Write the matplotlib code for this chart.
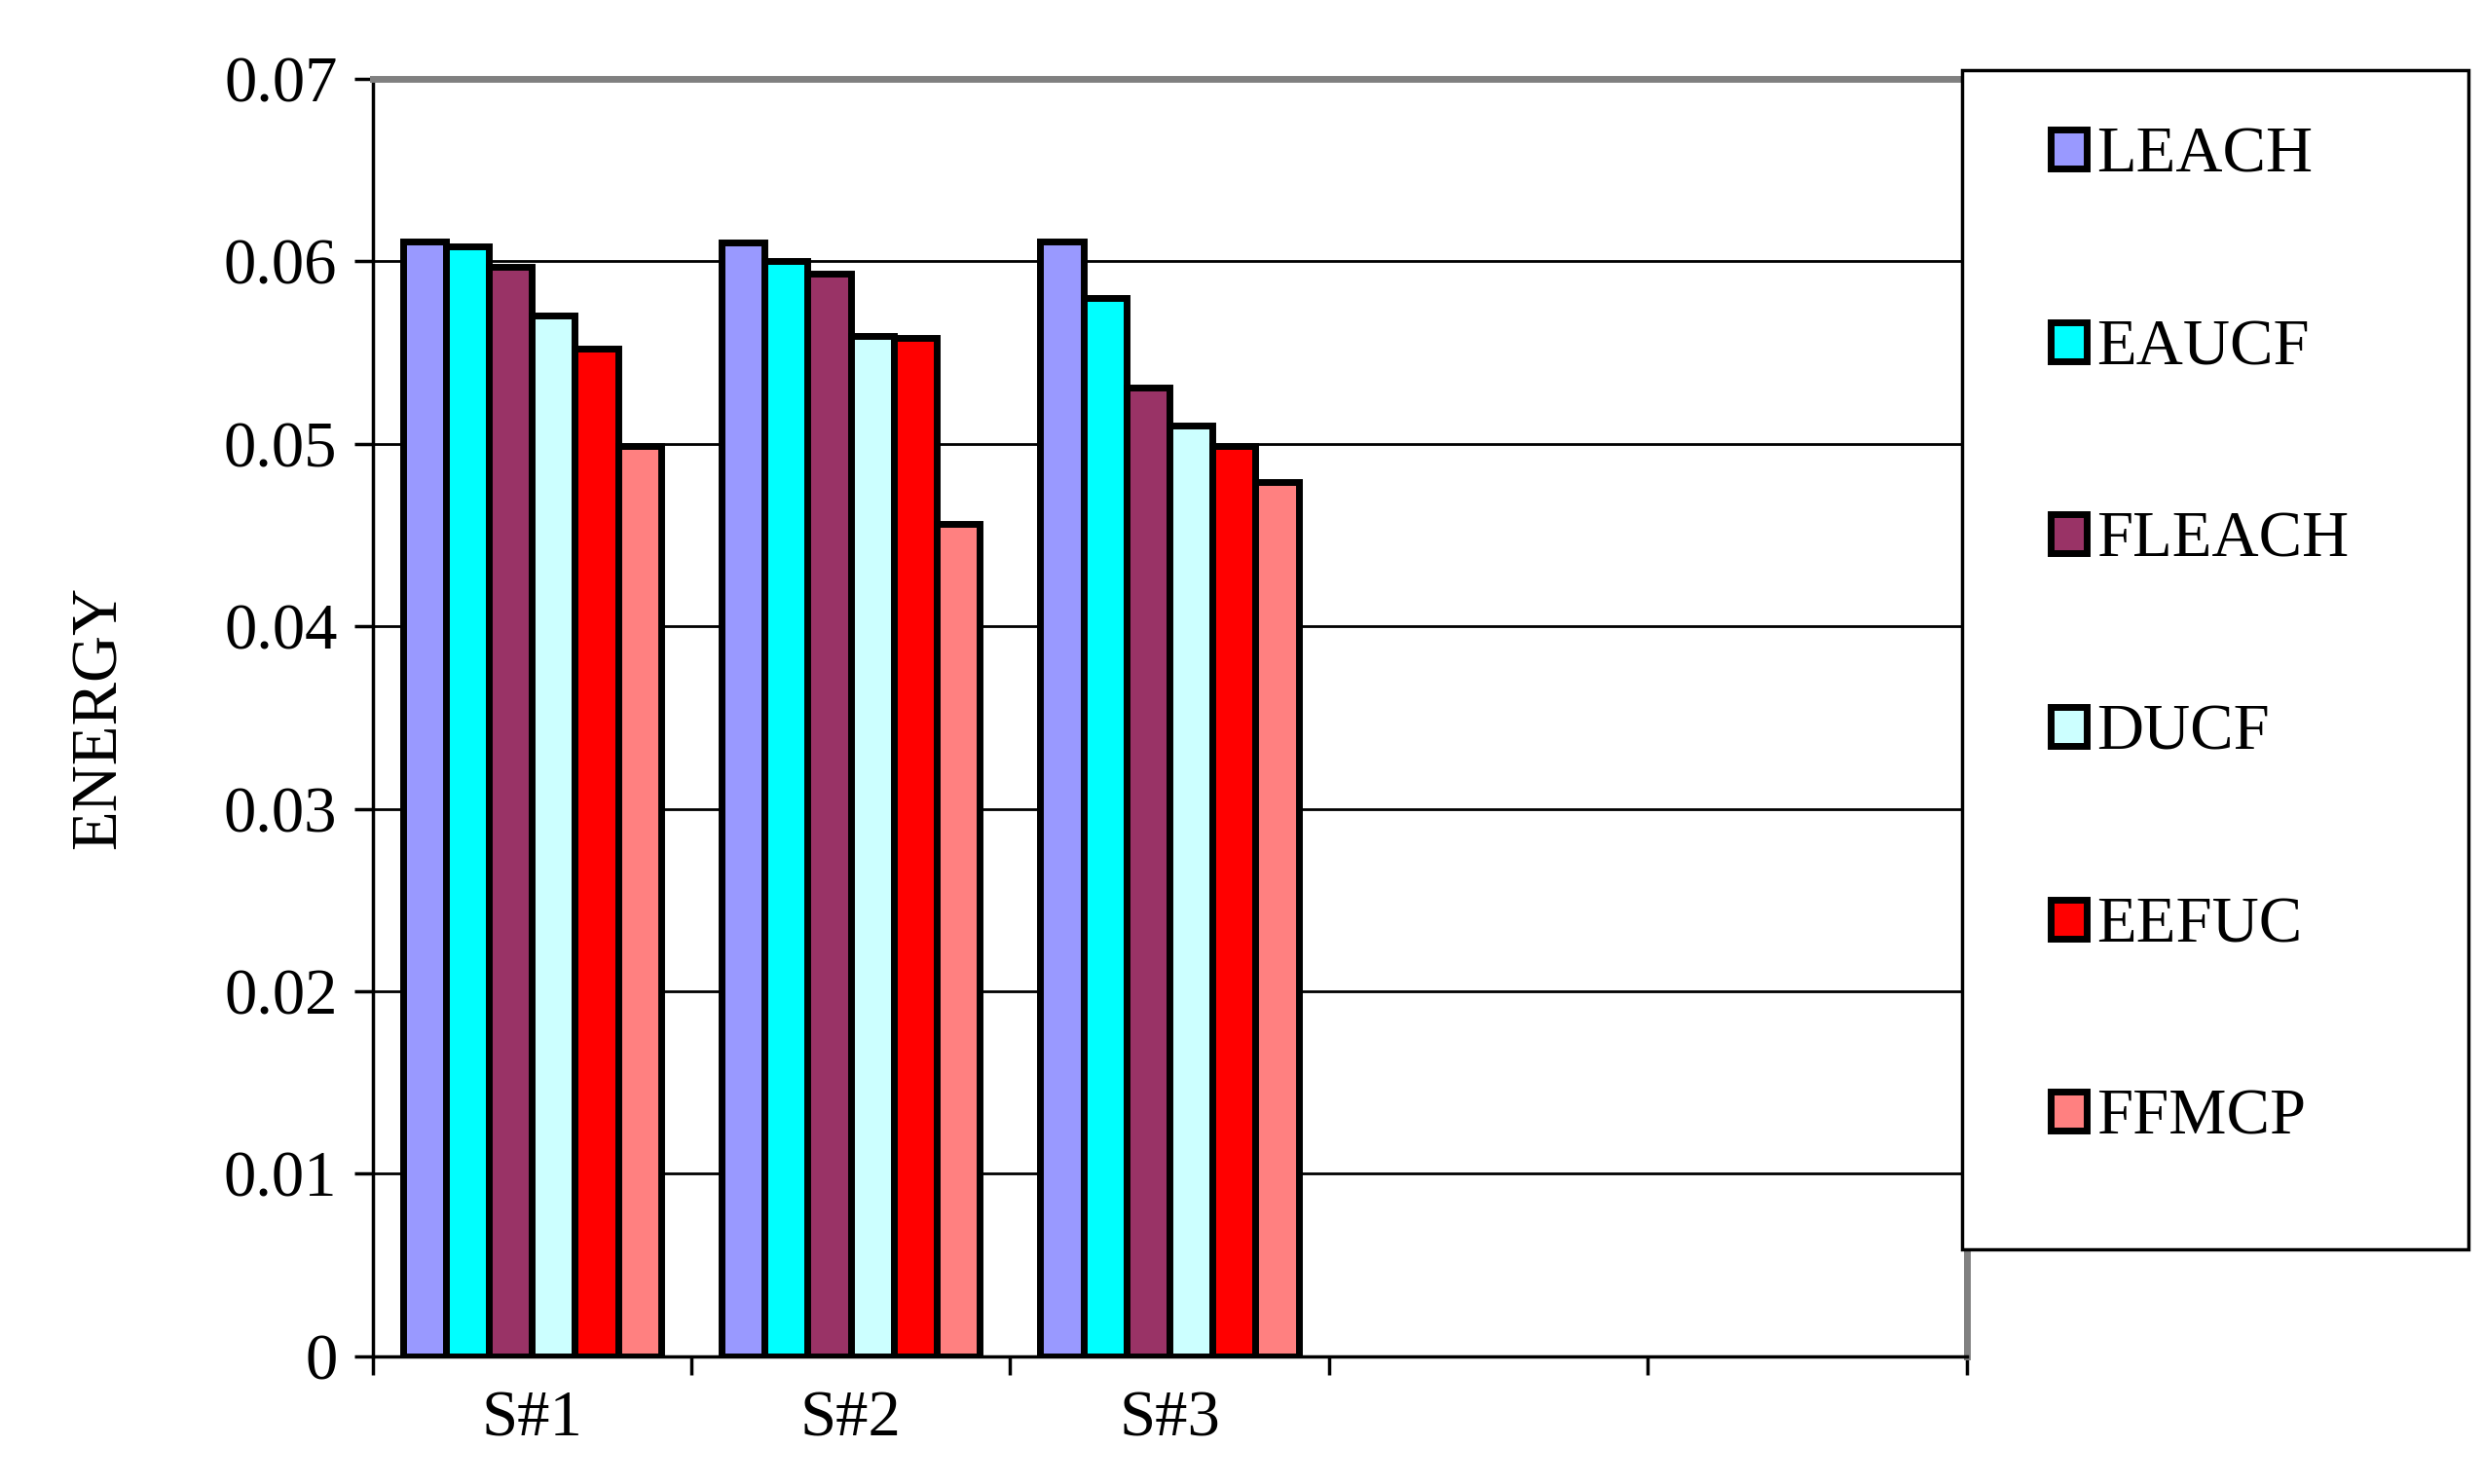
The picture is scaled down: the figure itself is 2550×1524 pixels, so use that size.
import matplotlib
matplotlib.use("Agg")
import matplotlib.pyplot as plt
import numpy as np
from matplotlib.patches import Rectangle

categories = ["S#1", "S#2", "S#3", "", ""]
series = ["LEACH", "EAUCF", "FLEACH", "DUCF", "EEFUC", "FFMCP"]
values = {
    "LEACH":  [0.0611, 0.0610, 0.0611],
    "EAUCF":  [0.0608, 0.0600, 0.0580],
    "FLEACH": [0.0597, 0.0593, 0.0531],
    "DUCF":   [0.0570, 0.0559, 0.0510],
    "EEFUC":  [0.0552, 0.0558, 0.0499],
    "FFMCP":  [0.0499, 0.0456, 0.0479],
}
colors = ["#9999FF", "#00FFFF", "#993366", "#CCFFFF", "#FF0000", "#FF8080"]

plt.rcParams['font.family'] = ['Liberation Serif', 'DejaVu Serif']
fig = plt.figure(figsize=(25.5, 15.24), dpi=100)
ax = fig.add_axes([0.150, 0.086, 0.642, 0.861])

bw = 0.135
n = len(series)
for i, (s, c) in enumerate(zip(series, colors)):
    x = np.arange(len(values[s])) + (i - (n - 1) / 2) * bw
    ax.bar(x, values[s], width=bw, color=c, edgecolor="black", linewidth=5, zorder=3,
           label=s)

ax.set_xlim(-0.5, len(categories) - 0.5)
ax.set_ylim(0, 0.07)
ax.set_yticks(np.arange(0, 0.071, 0.01))
ax.set_yticklabels(["0"] + [f"{v:.2f}" for v in np.arange(0.01, 0.071, 0.01)], fontsize=48)
ax.yaxis.grid(True, color="black", linewidth=2, zorder=0)
ax.set_xticks(np.arange(-0.5, len(categories)), minor=False)
ax.set_xticklabels([])
ax.set_xticks(np.arange(len(categories)), minor=True)
ax.set_xticklabels(categories, minor=True, fontsize=48)
ax.tick_params(axis="x", which="major", length=14, width=2.5, direction="out")
ax.tick_params(axis="x", which="minor", length=0, pad=25)
ax.tick_params(axis="y", length=14, width=2.5, direction="out", pad=12)
ax.set_ylabel("ENERGY", fontsize=48, labelpad=70)
for side in ["left", "bottom"]:
    ax.spines[side].set_linewidth(2.5)
    ax.spines[side].set_color("black")
for side in ["top", "right"]:
    ax.spines[side].set_linewidth(5)
    ax.spines[side].set_color("#808080")

# legend frame box
fig.patches.append(Rectangle((0.790, 0.158), 0.204, 0.795, transform=fig.transFigure,
                             facecolor="white", edgecolor="black", linewidth=2.5, zorder=5))
handles = [Rectangle((0, 0), 1, 1, facecolor=c, edgecolor="black", linewidth=5) for c in colors]
leg = fig.legend(handles, series, loc="upper left", bbox_to_anchor=(0.826, 0.915),
                 fontsize=48, frameon=False,
                 handlelength=0.55, handleheight=0.55, handletextpad=0.15,
                 labelspacing=2.05, borderpad=0, borderaxespad=0)
leg.set_zorder(6)
fig.savefig("out.png", dpi=100)
